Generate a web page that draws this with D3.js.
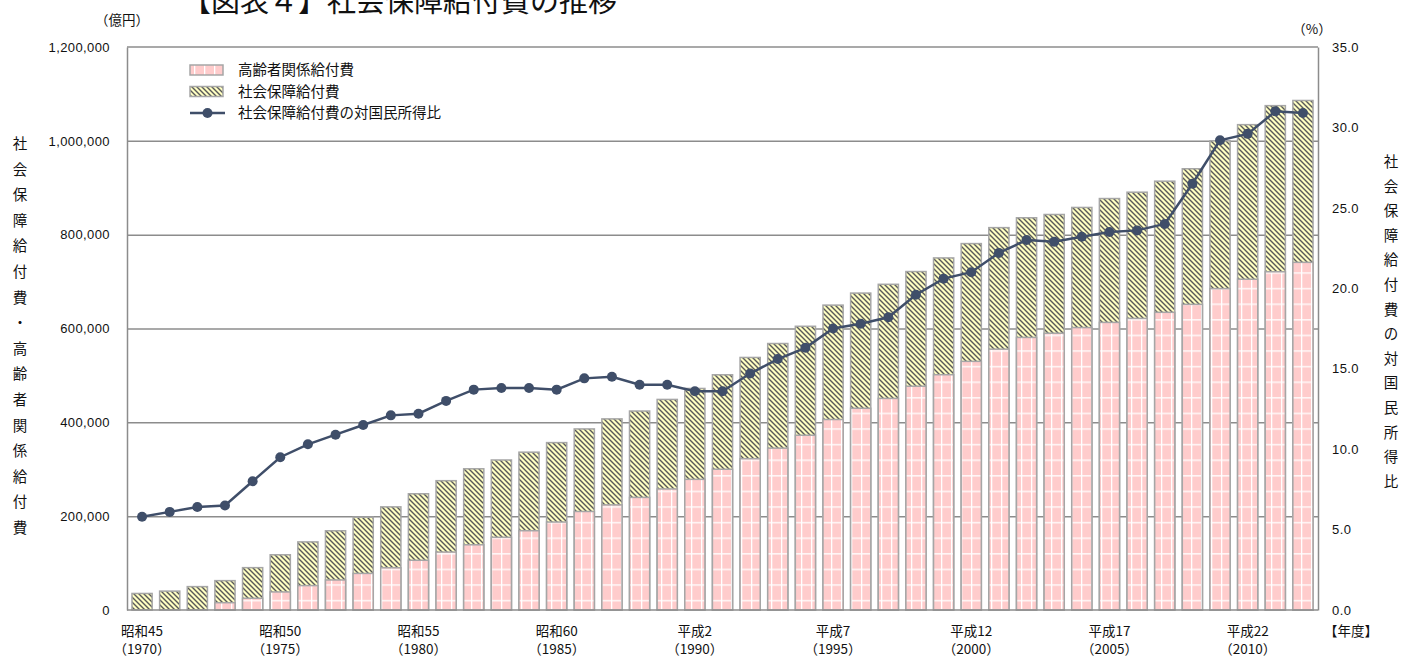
<!DOCTYPE html>
<html>
<head>
<meta charset="utf-8">
<script src="https://cdn.jsdelivr.net/npm/d3@7"></script>
<style>
    body { margin: 0; background: #fff; }
    svg { display: block; font-family: "Noto Sans CJK JP", "Noto Sans", sans-serif; }
    .axis .domain { stroke: #8c8c8c; stroke-width: 1.5; }
    .axis text { font-size: 13px; letter-spacing: 0.4px; fill: #111; font-family: "Liberation Sans", "Noto Sans CJK JP", sans-serif; }
    .grid line { stroke: #8c8c8c; stroke-width: 1.5; }
    .grid .domain { display: none; }
    .bar { stroke: #a6a6a6; stroke-width: 1.5; }
    .line { fill: none; stroke: #3f4e69; stroke-width: 2.5; }
    .dot { fill: #3f4e69; }
    .label { font-size: 14.5px; fill: #111; }
    .xlabel { font-size: 13.5px; fill: #111; }
</style>
</head>
<body>
<script>

var years = [1970, 1971, 1972, 1973, 1974, 1975, 1976, 1977, 1978, 1979,
             1980, 1981, 1982, 1983, 1984, 1985, 1986, 1987, 1988, 1989,
             1990, 1991, 1992, 1993, 1994, 1995, 1996, 1997, 1998, 1999,
             2000, 2001, 2002, 2003, 2004, 2005, 2006, 2007, 2008, 2009,
             2010, 2011, 2012];

// 社会保障給付費（億円）
var total = [35239, 40258, 49845, 62587, 90270, 117693, 145165, 168868, 197763, 219832,
             247736, 275638, 300973, 319733, 336396, 356798, 385918, 407337, 424071, 448822,
             472203, 501346, 538280, 568000, 604727, 649842, 675475, 694187, 721411, 750417,
             781000, 815000, 836000, 843000, 858000, 877000, 890500, 914000, 940500, 1000000,
             1034500, 1075000, 1086000];

// 高齢者関係給付費（億円）
var elderly = [null, null, null, 15600, 25000, 38500, 52000, 64000, 78000, 90000,
               106000, 123500, 139000, 155000, 169000, 187500, 210000, 224000, 240000, 258000,
               278500, 300000, 322500, 345000, 372500, 406000, 430000, 451000, 477000, 501500,
               530000, 556000, 581000, 590000, 602000, 613000, 621500, 634500, 651500, 685000,
               705000, 721000, 741000];

// 社会保障給付費の対国民所得比（%）
var ratio = [5.8, 6.1, 6.4, 6.5, 8.0, 9.5, 10.3, 10.9, 11.5, 12.1,
             12.2, 13.0, 13.7, 13.8, 13.8, 13.7, 14.4, 14.5, 14.0, 14.0,
             13.6, 13.6, 14.7, 15.6, 16.3, 17.5, 17.8, 18.2, 19.6, 20.6,
             21.0, 22.2, 23.0, 22.9, 23.2, 23.5, 23.6, 24.0, 26.5, 29.2,
             29.6, 31.0, 30.9];

var tickYears = [1970, 1975, 1980, 1985, 1990, 1995, 2000, 2005, 2010];
var eraLabels = ["昭和45", "昭和50", "昭和55", "昭和60", "平成2", "平成7", "平成12", "平成17", "平成22"];
var leftTicks = [0, 200000, 400000, 600000, 800000, 1000000, 1200000];
var rightTicks = [0, 5, 10, 15, 20, 25, 30, 35];

var legendLabels = ["高齢者関係給付費", "社会保障給付費", "社会保障給付費の対国民所得比"];
var leftTitle = "社会保障給付費・高齢者関係給付費";
var rightTitle = "社会保障給付費の対国民所得比";


var width = 1402
    , height = 657
    , margin = {left: 127, right: 84, top: 47, bottom: 47}
    , w = width - margin.left - margin.right
    , h = height - margin.top - margin.bottom
    ;

var svg = d3.select("body").append("svg")
    .attr("width", width)
    .attr("height", height);

var defs = svg.append("defs");

var plaid = defs.append("pattern")
    .attr("id", "plaid")
    .attr("patternUnits", "userSpaceOnUse")
    .attr("width", 10)
    .attr("height", 15.6);
plaid.append("rect").attr("width", 10).attr("height", 15.6).attr("fill", "#ffcccc");
plaid.append("rect").attr("x", 4).attr("width", 1.3).attr("height", 15.6).attr("fill", "#fff");
plaid.append("rect").attr("y", 7).attr("width", 10).attr("height", 1.3).attr("fill", "#fff");

var hatch = defs.append("pattern")
    .attr("id", "hatch")
    .attr("patternUnits", "userSpaceOnUse")
    .attr("width", 5)
    .attr("height", 5);
hatch.append("rect").attr("width", 5).attr("height", 5).attr("fill", "#ffffc2");
hatch.append("path")
    .attr("d", "M -1,-1 L 6,6 M -1,4 L 1,6 M 4,-1 L 6,1")
    .attr("stroke", "#585858")
    .attr("stroke-width", 1.4);


var g = svg.append("g")
    .attr("transform", "translate(" + margin.left + "," + margin.top + ")");

var x = d3.scaleBand()
    .domain(years)
    .range([0, w])
    .paddingInner(0.27)
    .paddingOuter(0.18);

var y = d3.scaleLinear()
    .domain([0, 1200000])
    .range([h, 0]);

var y2 = d3.scaleLinear()
    .domain([0, 35])
    .range([h, 0]);

// grid
g.append("g")
    .attr("class", "grid")
    .call(d3.axisLeft(y)
        .tickValues(leftTicks.slice(1, -1))
        .tickSize(-w)
        .tickFormat(""));

// bars
var bars = g.append("g").selectAll("g")
    .data(years)
    .enter().append("g");

bars.append("rect")
    .attr("class", "bar")
    .attr("x", function(d) { return x(d); })
    .attr("width", x.bandwidth())
    .attr("y", function(d, i) { return y(total[i]); })
    .attr("height", function(d, i) { return y(0) - y(total[i]); })
    .attr("fill", "url(#hatch)");

bars.filter(function(d, i) { return elderly[i] != null; })
    .append("rect")
    .attr("class", "bar")
    .attr("x", function(d) { return x(d); })
    .attr("width", x.bandwidth())
    .attr("y", function(d) { return y(elderly[years.indexOf(d)]); })
    .attr("height", function(d) { return y(0) - y(elderly[years.indexOf(d)]); })
    .attr("fill", "url(#plaid)");

// axes
g.append("g")
    .attr("class", "axis axis--left")
    .call(d3.axisLeft(y)
        .tickValues(leftTicks)
        .tickSize(0)
        .tickPadding(17)
        .tickFormat(d3.format(",")));

g.append("g")
    .attr("class", "axis axis--right")
    .attr("transform", "translate(" + w + ",0)")
    .call(d3.axisRight(y2)
        .tickValues(rightTicks)
        .tickSize(0)
        .tickPadding(14)
        .tickFormat(d3.format(".1f")));

g.append("line")
    .attr("x1", 0).attr("x2", w)
    .attr("y1", 0).attr("y2", 0)
    .attr("stroke", "#8c8c8c").attr("stroke-width", 1.5);

g.append("line")
    .attr("x1", 0).attr("x2", w)
    .attr("y1", h).attr("y2", h)
    .attr("stroke", "#8c8c8c").attr("stroke-width", 1.5);

// line
var line = d3.line()
    .x(function(d, i) { return x(years[i]) + x.bandwidth() / 2; })
    .y(function(d) { return y2(d); });

g.append("path")
    .datum(ratio)
    .attr("class", "line")
    .attr("d", line);

g.append("g").selectAll("circle")
    .data(ratio)
    .enter().append("circle")
    .attr("class", "dot")
    .attr("r", 5)
    .attr("cx", function(d, i) { return x(years[i]) + x.bandwidth() / 2; })
    .attr("cy", function(d) { return y2(d); });

// x labels, two rows
var xg = g.append("g")
    .attr("class", "xlabel");

xg.selectAll("text.era")
    .data(tickYears)
    .enter().append("text")
    .attr("class", "era")
    .attr("text-anchor", "middle")
    .attr("x", function(d) { return x(d) + x.bandwidth() / 2; })
    .attr("y", h + 26)
    .text(function(d, i) { return eraLabels[i]; });

xg.selectAll("text.yr")
    .data(tickYears)
    .enter().append("text")
    .attr("class", "yr")
    .attr("text-anchor", "middle")
    .attr("x", function(d) { return x(d) + x.bandwidth() / 2; })
    .attr("y", h + 44)
    .text(function(d) { return "（" + d + "）"; });

g.append("text")
    .attr("class", "xlabel")
    .attr("x", w + 33)
    .attr("y", h + 26)
    .attr("text-anchor", "middle")
    .text("【年度】");

// unit labels
svg.append("text")
    .attr("class", "xlabel")
    .attr("x", 122)
    .attr("y", 25)
    .attr("text-anchor", "middle")
    .text("（億円）");

svg.append("text")
    .attr("class", "xlabel")
    .attr("x", 1312)
    .attr("y", 34)
    .attr("text-anchor", "middle")
    .text("（%）");

// title (clipped at the top in the original)
svg.append("text")
    .attr("x", 182)
    .attr("y", 12)
    .attr("font-size", 29)
    .attr("fill", "#111")
    .text("【図表４】社会保障給付費の推移");

// vertical titles
svg.append("g").selectAll("text")
    .data(leftTitle.split(""))
    .enter().append("text")
    .attr("class", "label")
    .attr("text-anchor", "middle")
    .attr("x", 20)
    .attr("y", function(d, i) { return 149 + i * 25.6; })
    .text(function(d) { return d; });

svg.append("g").selectAll("text")
    .data(rightTitle.split(""))
    .enter().append("text")
    .attr("class", "label")
    .attr("text-anchor", "middle")
    .attr("x", 1391)
    .attr("y", function(d, i) { return 167 + i * 24.6; })
    .text(function(d) { return d; });

// legend
var legend = svg.append("g")
    .attr("transform", "translate(190,70)");

legend.append("rect")
    .attr("class", "bar")
    .attr("x", 0).attr("y", -5)
    .attr("width", 33).attr("height", 10)
    .attr("fill", "url(#plaid)");

legend.append("rect")
    .attr("class", "bar")
    .attr("x", 0).attr("y", 16.5)
    .attr("width", 33).attr("height", 10)
    .attr("fill", "url(#hatch)");

legend.append("line")
    .attr("class", "line")
    .attr("x1", 0).attr("x2", 35)
    .attr("y1", 43).attr("y2", 43);

legend.append("circle")
    .attr("class", "dot")
    .attr("r", 5)
    .attr("cx", 17.5).attr("cy", 43);

legend.selectAll("text.lg")
    .data(legendLabels)
    .enter().append("text")
    .attr("class", "label lg")
    .attr("x", 48)
    .attr("y", function(d, i) { return 5 + i * 21.5; })
    .text(function(d) { return d; });

</script>
</body>
</html>
